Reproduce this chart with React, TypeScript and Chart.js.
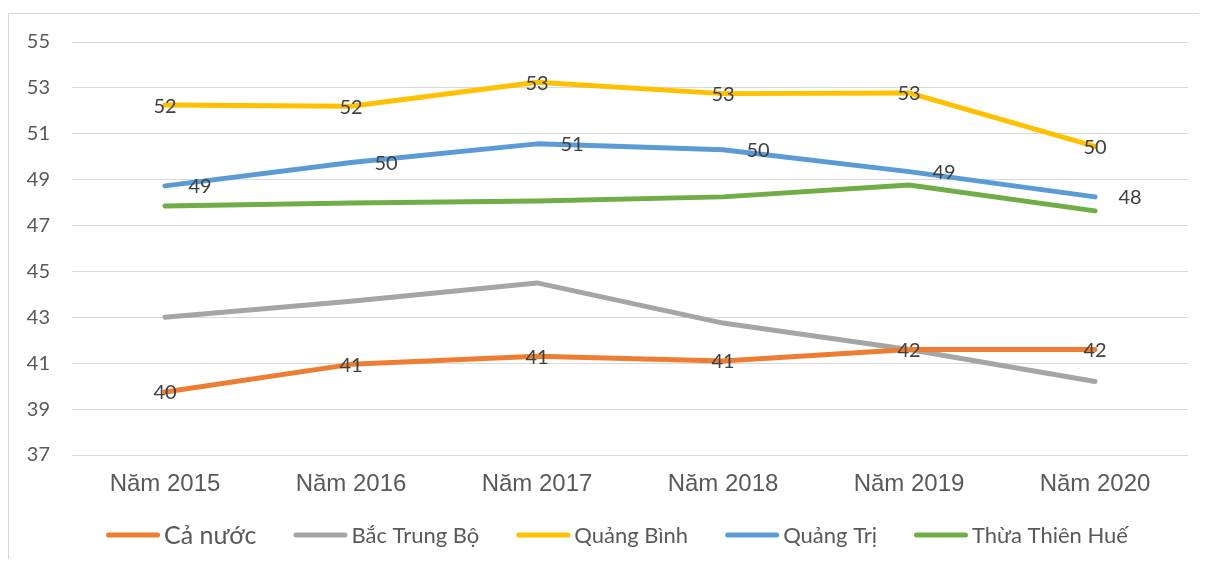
import React, { useEffect, useRef } from "react";
import { Chart, registerables } from "chart.js";

Chart.register(...registerables);

const categories = ["Năm 2015", "Năm 2016", "Năm 2017", "Năm 2018", "Năm 2019", "Năm 2020"];
const seriesNames = ["Cả nước", "Bắc Trung Bộ", "Quảng Bình", "Quảng Trị", "Thừa Thiên Huế"];
const caNuoc = [39.75, 40.95, 41.3, 41.1, 41.6, 41.6];
const bacTrungBo = [43.0, 43.7, 44.5, 42.75, 41.6, 40.2];
const quangBinh = [52.25, 52.2, 53.25, 52.75, 52.78, 50.45];
const quangTri = [48.73, 49.75, 50.56, 50.3, 49.35, 48.25];
const thuaThienHue = [47.85, 47.98, 48.07, 48.25, 48.77, 47.64];
const yMin = 37;
const yMax = 55;
const yStep = 2;

const colors = ["#ED7D31", "#A5A5A5", "#FFC000", "#5B9BD5", "#70AD47"];
// label mode per series: "center", "right" or "none"
const labelModes = ["center", "none", "center", "right", "none"];
// legend font size per entry (the first entry is larger in the original)
const legendFontSizes = [25, 22, 22, 22, 22];

const dataLabelPlugin = {
  id: "dataLabels",
  afterDatasetsDraw(chart: any) {
    const ctx = chart.ctx;
    ctx.save();
    ctx.font = "20px Lato";
    ctx.fillStyle = "#404040";
    ctx.textBaseline = "middle";
    ctx.textAlign = "center";
    chart.data.datasets.forEach((ds: any, i: number) => {
      const mode = labelModes[i];
      if (mode === "none") return;
      const meta = chart.getDatasetMeta(i);
      meta.data.forEach((pt: any, j: number) => {
        const v = Math.round(ds.data[j]);
        const dx = mode === "right" ? 35 : 0;
        ctx.fillText(String(v), pt.x + dx, pt.y + 1);
      });
    });
    ctx.restore();
  },
};

const lineLegendPlugin = {
  id: "lineLegend",
  afterDraw(chart: any) {
    const ctx = chart.ctx;
    const lineW = 54;
    const gap = 4;
    const itemGap = 37;
    const y = 521;
    ctx.save();
    const widths = chart.data.datasets.map((ds: any, i: number) => {
      ctx.font = `${legendFontSizes[i]}px Lato`;
      return ctx.measureText(ds.label).width;
    });
    const total =
      widths.reduce((a: number, b: number) => a + b, 0) +
      widths.length * (lineW + gap) +
      (widths.length - 1) * itemGap;
    let x = (chart.chartArea.left + chart.chartArea.right) / 2 - 13 - total / 2;
    chart.data.datasets.forEach((ds: any, i: number) => {
      ctx.strokeStyle = ds.borderColor;
      ctx.lineWidth = 5;
      ctx.lineCap = "round";
      ctx.beginPath();
      ctx.moveTo(x + 2.5, y);
      ctx.lineTo(x + lineW - 2.5, y);
      ctx.stroke();
      x += lineW + gap;
      ctx.font = `${legendFontSizes[i]}px Lato`;
      ctx.fillStyle = "#595959";
      ctx.textBaseline = "middle";
      ctx.textAlign = "left";
      ctx.fillText(ds.label, x, y + 1);
      x += widths[i] + itemGap;
    });
    ctx.restore();
  },
};

export default function App() {
  const ref = useRef<HTMLCanvasElement>(null);
  useEffect(() => {
    document.documentElement.style.overflow = "hidden";
    const all = [caNuoc, bacTrungBo, quangBinh, quangTri, thuaThienHue];
    const chart = new Chart(ref.current!, {
      type: "line",
      data: {
        labels: categories,
        datasets: all.map((d, i) => ({
          label: seriesNames[i],
          data: d,
          borderColor: colors[i],
          backgroundColor: colors[i],
          borderWidth: 5,
          borderCapStyle: "round" as const,
          borderJoinStyle: "round" as const,
          pointRadius: 0,
          pointHoverRadius: 0,
          tension: 0,
          fill: false,
        })),
      },
      options: {
        animation: false,
        responsive: false,
        maintainAspectRatio: false,
        layout: { padding: { top: 28, right: 18, bottom: 45, left: 0 } },
        plugins: {
          tooltip: { enabled: false },
          legend: { display: false },
        },
        scales: {
          x: {
            offset: true,
            grid: { display: false, drawTicks: false },
            border: { display: false },
            ticks: {
              color: "#595959",
              font: { family: "'Liberation Sans', Arial", size: 24 },
              padding: 15,
              maxRotation: 0,
            },
            afterFit(scale: any) {
              scale.height = 59;
            },
          },
          y: {
            min: yMin,
            max: yMax,
            grid: { color: "#D9D9D9", lineWidth: 1, drawTicks: false },
            border: { display: false },
            ticks: {
              stepSize: yStep,
              color: "#595959",
              font: { family: "Lato", size: 20 },
              padding: 22,
            },
            afterFit(scale: any) {
              scale.width = 63;
              scale.paddingTop = 0;
              scale.paddingBottom = 0;
            },
          },
        },
      },
      plugins: [dataLabelPlugin, lineLegendPlugin],
    });
    return () => chart.destroy();
  }, []);
  return (
    <div
      style={{
        marginTop: 5,
        width: 1215,
        height: 545,
        borderTop: "1px solid #D9D9D9",
        borderLeft: "1px solid #D9D9D9",
        background: "#fff",
      }}
    >
      <canvas ref={ref} width={1197} height={545} style={{ display: "block" }} />
    </div>
  );
}
